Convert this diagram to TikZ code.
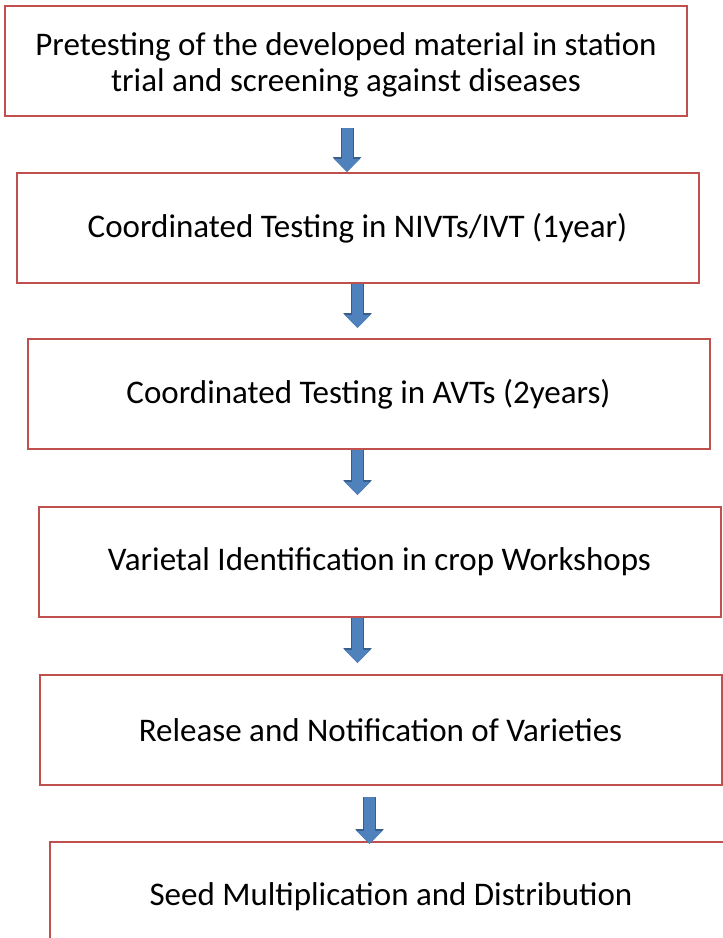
\documentclass[tikz,border=0pt]{standalone}
\usepackage{fontspec}
\setmainfont{Carlito}
\usepackage{tikz}
\usetikzlibrary{arrows.meta, positioning}

\definecolor{boxred}{RGB}{192,80,77}
\definecolor{arrowblue}{RGB}{79,129,189}
\definecolor{arrowedge}{RGB}{56,93,138}

\begin{document}
\begin{tikzpicture}[
  stage/.style={rectangle, draw=boxred, line width=2pt, minimum width=682pt, minimum height=110pt, align=center, font=\fontsize{33}{36}\selectfont},
  flow/.style={draw=arrowblue, line width=11pt, -{Triangle[width=25pt,length=13pt]},
    preaction={draw=arrowedge, line width=13pt, -{Triangle[width=28pt,length=15pt]}}}
]
  \useasboundingbox (0,0) rectangle (723pt,-938pt);
  \clip (0,0) rectangle (723pt,-938pt);

  \node[stage] (pretest) at (346pt,-61pt) {\\[-6pt]Pretesting of the developed material in station\\trial and screening against diseases};
  \node[stage, below=55pt of pretest, xshift=11.5pt] (nivt) {Coordinated Testing in NIVTs/IVT (1year)};
  \node[stage, below=54pt of nivt, xshift=11pt] (avt) {Coordinated Testing in AVTs (2years)};
  \node[stage, below=56pt of avt, xshift=11pt] (workshop) {Varietal Identification in crop Workshops};
  \node[stage, below=56pt of workshop, xshift=1pt] (release) {Release and Notification of Varieties};
  \node[stage, below=55pt of release, xshift=10.5pt] (seed) {Seed Multiplication and Distribution};

  \draw[flow] ([xshift=1pt, yshift=-11pt]pretest.south) -- ([xshift=-10.5pt]nivt.north);
  \draw[flow] (nivt.south) -- ([xshift=-11pt, yshift=10pt]avt.north);
  \draw[flow] ([xshift=-11pt]avt.south) -- ([xshift=-22pt, yshift=11pt]workshop.north);
  \draw[flow] ([xshift=-22pt]workshop.south) -- ([xshift=-23pt, yshift=11pt]release.north);
  \draw[flow] ([xshift=-11pt, yshift=-11pt]release.south) -- ([xshift=-21.5pt, yshift=-3pt]seed.north);
\end{tikzpicture}
\end{document}
